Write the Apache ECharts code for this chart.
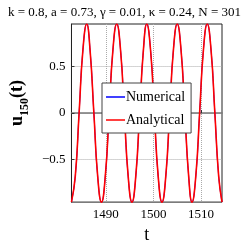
<!DOCTYPE html>
<html>
<head>
<meta charset="utf-8">
<script src="https://cdn.jsdelivr.net/npm/echarts@6/dist/echarts.min.js"></script>
<style>html,body{margin:0;padding:0;background:#fff}#c{width:249px;height:249px}</style>
</head>
<body>
<div id="c"></div>
<script>
const titleText = 'k = 0.8, a = 0.73, \u03b3 = 0.01, \u03ba = 0.24, N = 301';
const seriesNames = ['Numerical', 'Analytical'];
const tVals = [1482.8, 1483.6, 1484.4, 1485.2, 1486.0, 1486.7, 1487.5, 1488.3, 1489.1, 1489.9,
  1490.7, 1491.5, 1492.3, 1493.1, 1493.9, 1494.7, 1495.5, 1496.3, 1497.1, 1497.9,
  1498.6, 1499.4, 1500.2, 1501.0, 1501.8, 1502.6, 1503.4, 1504.2, 1505.0, 1505.8,
  1506.6, 1507.4, 1508.1, 1508.9, 1509.7, 1510.5, 1511.3, 1512.1, 1512.9, 1513.7, 1514.4];
const numericalVals = [-0.96, -0.68, 0, 0.68, 0.96, 0.68, 0, -0.68,
  -0.96, -0.68, 0, 0.68, 0.96, 0.68, 0, -0.68,
  -0.96, -0.68, 0, 0.68, 0.96, 0.68, 0, -0.68,
  -0.96, -0.68, 0, 0.68, 0.96, 0.68, 0, -0.68,
  -0.96, -0.68, 0, 0.68, 0.96, 0.68, 0, -0.68, -0.96];
const analyticalVals = [-0.96, -0.68, 0, 0.68, 0.96, 0.68, 0, -0.68,
  -0.96, -0.68, 0, 0.68, 0.96, 0.68, 0, -0.68,
  -0.96, -0.68, 0, 0.68, 0.96, 0.68, 0, -0.68,
  -0.96, -0.68, 0, 0.68, 0.96, 0.68, 0, -0.68,
  -0.96, -0.68, 0, 0.68, 0.96, 0.68, 0, -0.68, -0.96];
const xTicks = [1490, 1500, 1510];
const yTicks = [-0.5, 0, 0.5];

const font = 'Liberation Serif';
const pair = (xs, ys) => xs.map((x, i) => [x, ys[i]]);
const chart = echarts.init(document.getElementById('c'), null, {renderer: 'canvas'});
chart.setOption({
  animation: false,
  backgroundColor: '#fff',
  title: {
    text: titleText, left: 'center', top: 1,
    textStyle: {fontFamily: font, fontSize: 13, fontWeight: 'normal', color: '#000'}
  },
  grid: {left: 48, right: 27, top: 24, bottom: 43, show: true, borderColor: '#222', borderWidth: 1},
  legend: {
    data: seriesNames, orient: 'vertical', left: 102, top: 83, icon: 'rect',
    backgroundColor: '#fff', borderColor: '#444', borderWidth: 1, borderRadius: 0,
    padding: [7, 6, 6, 4], itemGap: 9, itemWidth: 19, itemHeight: 1.5,
    textStyle: {fontFamily: font, fontSize: 14, color: '#000', lineHeight: 14, padding: [0, 0, 0, -4]}
  },
  xAxis: {
    type: 'value', min: 1482.8, max: 1514.4,
    name: 't', nameLocation: 'middle', nameGap: 21,
    nameTextStyle: {fontFamily: font, fontSize: 18, color: '#000'},
    axisLine: {show: true, lineStyle: {color: '#777', width: 1.5}},
    axisTick: {show: true, inside: true, length: 3, customValues: xTicks, lineStyle: {color: '#333'}},
    axisLabel: {customValues: xTicks, fontFamily: font, fontSize: 13, color: '#000', margin: 6,
      formatter: v => String(v)},
    splitLine: {show: true, lineStyle: {type: 'dotted', color: '#aaa'}}
  },
  yAxis: {
    type: 'value', min: -0.96, max: 0.96,
    name: '{f|u}{s|150}{m|(t)}', nameLocation: 'middle', nameRotate: 90, nameGap: 33,
    nameTextStyle: {
      rich: {
        f: {fontFamily: font, fontSize: 18, fontWeight: 'bold', color: '#000', verticalAlign: 'bottom', padding: [0, 0, 5, 20]},
        m: {fontFamily: font, fontSize: 18, fontWeight: 'bold', color: '#000', verticalAlign: 'bottom', padding: [0, 0, 5, 0]},
        s: {fontFamily: font, fontSize: 12, fontWeight: 'bold', color: '#000', verticalAlign: 'bottom'}
      }
    },
    axisLine: {show: true, lineStyle: {color: '#222'}},
    axisTick: {show: true, inside: true, length: 3, customValues: yTicks, lineStyle: {color: '#333'}},
    axisLabel: {customValues: yTicks, fontFamily: font, fontSize: 13, color: '#000', margin: 6,
      formatter: v => (v < 0 ? '\u2212' + Math.abs(v) : String(v))},
    splitLine: {show: true, lineStyle: {type: 'dotted', color: '#aaa'}}
  },
  series: [
    {name: seriesNames[0], type: 'line', data: pair(tVals, numericalVals), smooth: 0.5, symbol: 'none',
      lineStyle: {color: '#0000ff', width: 1}, itemStyle: {color: '#0000ff'}},
    {name: seriesNames[1], type: 'line', data: pair(tVals, analyticalVals), smooth: 0.5, symbol: 'none',
      lineStyle: {color: '#ff0000', width: 1.6}, itemStyle: {color: '#ff0000'}}
  ]
});
</script>
</body>
</html>
